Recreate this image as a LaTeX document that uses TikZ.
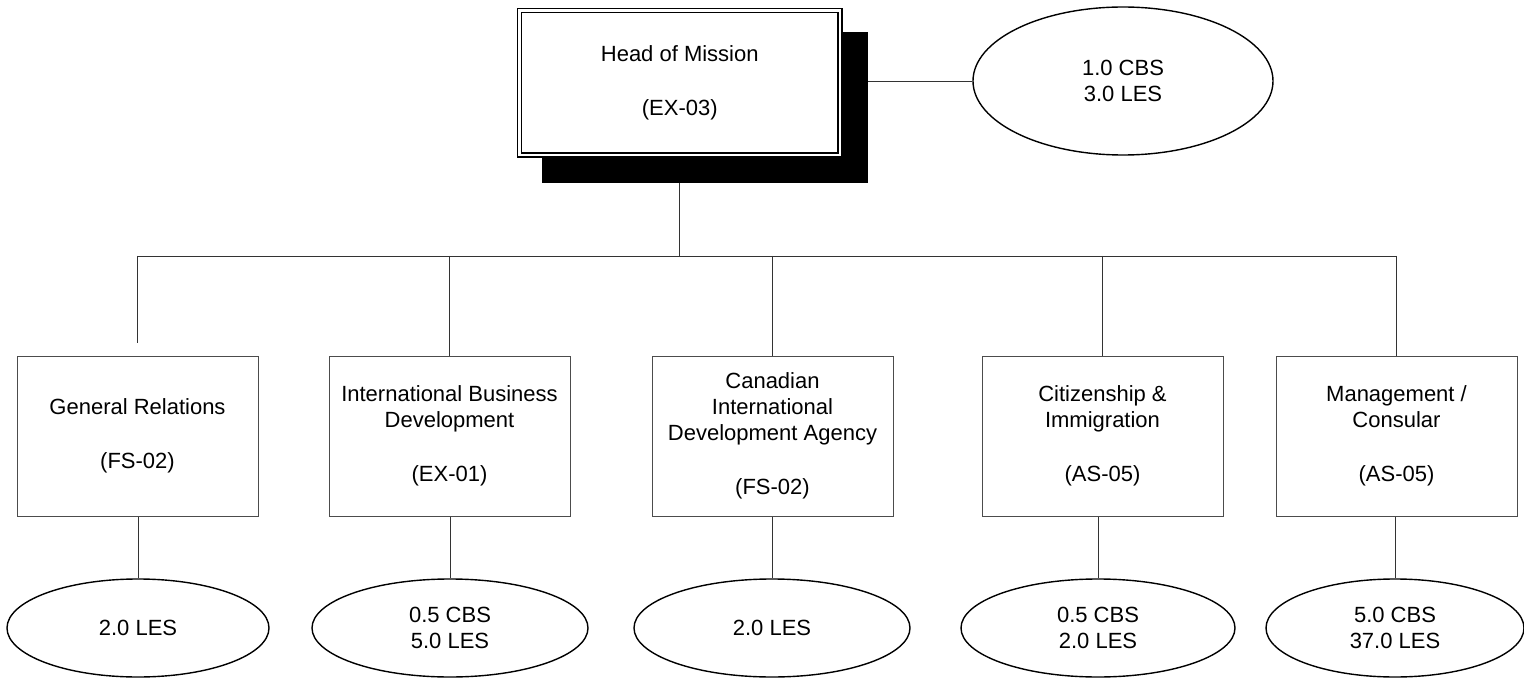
\documentclass[tikz,border=0pt]{standalone}
\usepackage{fontspec}
\setmainfont{Liberation Sans}
\usetikzlibrary{shapes.geometric}
\begin{document}
\begin{tikzpicture}[x=1pt,y=-1pt,
  every node/.style={font=\fontsize{22}{26}\selectfont, align=center, inner sep=0pt},
  conn/.style={draw=black!80, line width=0.9pt},
  unitbox/.style={draw=black!70, line width=1pt, fill=white, minimum width=241pt, minimum height=160pt},
  staff/.style={ellipse, draw=black, line width=1.4pt, fill=white},
  headbox/.style={draw=black, line width=1.3pt, double=white, double distance=2.6pt, fill=white, minimum width=320.5pt, minimum height=144.5pt},
  shadowbox/.style={fill=black, minimum width=326pt, minimum height=151pt}
]
\useasboundingbox (0,0) rectangle (1524,679);
\fill[white] (0,0) rectangle (1524,679);

% head of mission
\node[shadowbox] (shadow) at (705,107.5) {};
\node[headbox] (hom) at (679.75,82.75) {Head of Mission\\[28pt](EX-03)};
\node[staff, minimum width=300pt, minimum height=148pt] (ehom) at (1123,81) {1.0 CBS\\3.0 LES};
\draw[conn] (shadow.east |- ehom.west) -- (ehom.west);

% units
\node[unitbox] (gr)   at (137.5,436)  {General Relations\\[28pt](FS-02)};
\node[unitbox] (ibd)  at (449.5,436)  {International Business\\Development\\[28pt](EX-01)};
\node[unitbox] (cida) at (772.5,436)  {Canadian\\International\\Development Agency\\[28pt](FS-02)};
\node[unitbox] (cit)  at (1102.5,436) {Citizenship \&\\Immigration\\[28pt](AS-05)};
\node[unitbox] (mgmt) at (1396.5,436) {Management /\\Consular\\[28pt](AS-05)};

% staff ellipses
\node[staff, minimum width=262pt, minimum height=98pt] (egr)   at (138,628)  {2.0 LES};
\node[staff, minimum width=276pt, minimum height=98pt] (eibd)  at (450,628)  {0.5 CBS\\5.0 LES};
\node[staff, minimum width=276pt, minimum height=98pt] (ecida) at (772,628)  {2.0 LES};
\node[staff, minimum width=274pt, minimum height=98pt] (ecit)  at (1098,628) {0.5 CBS\\2.0 LES};
\node[staff, minimum width=258pt, minimum height=98pt] (emgmt) at (1395,628) {5.0 CBS\\37.0 LES};

% bus
\coordinate (busL) at (137.5,256);
\coordinate (busR) at (1396.5,256);
\coordinate (grend) at (137.5,343);
\draw[conn] (busL) -- (busR);
\draw[conn] (hom.center |- shadow.south) -- (hom.center |- busL);

% branches
\draw[conn] (gr.north |- busL) -- (grend);
\draw[conn] (ibd.north |- busL) -- (ibd.north);
\draw[conn] (cida.north |- busL) -- (cida.north);
\draw[conn] (cit.north |- busL) -- (cit.north);
\draw[conn] (mgmt.north |- busL) -- (mgmt.north);

% to staff
\draw[conn] (egr.north |- gr.south) -- (egr.north);
\draw[conn] (eibd.north |- ibd.south) -- (eibd.north);
\draw[conn] (ecida.north |- cida.south) -- (ecida.north);
\draw[conn] (ecit.north |- cit.south) -- (ecit.north);
\draw[conn] (emgmt.north |- mgmt.south) -- (emgmt.north);
\end{tikzpicture}
\end{document}
